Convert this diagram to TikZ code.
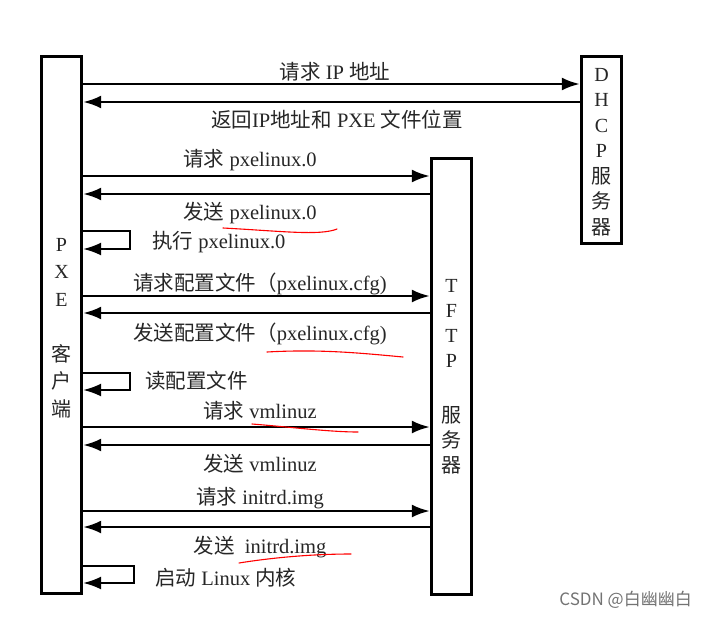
\documentclass[tikz,border=0pt]{standalone}
\usepackage{fontspec}
\setmainfont{Liberation Serif}
\newfontfamily\cjk{Noto Sans CJK SC}
\usetikzlibrary{arrows.meta}
\newcommand\zh[1]{{\cjk #1}}
\begin{document}
\begin{tikzpicture}[x=1pt,y=-1pt,
  box/.style={draw, line width=3.4pt, minimum width=40pt, inner sep=0pt},
  msg/.style={line width=2.5pt, -{Latex[length=18pt,width=13pt]}},
  loopa/.style={line width=2pt, -{Latex[length=18pt,width=13pt]}},
  lbl/.style={font=\fontsize{20.5}{24}\selectfont, text=black!85, inner sep=0pt},
  vlbl/.style={align=center, inner sep=0pt, text=black!85},
  redmark/.style={draw=red, line width=1.1pt, line cap=round}
]
\useasboundingbox[fill=white] (0,0) rectangle (706,618);

% boxes
\node[box, minimum height=537pt] (pxe) at (61.5,325) {};
\node[box, minimum height=187pt] (dhcp) at (601.5,150) {};
\node[box, minimum height=436pt] (tftp) at (451.5,376.5) {};

% vertical labels
\node[vlbl, font=\fontsize{20}{27.5}\selectfont] (pxet) at (61.5,328)
  {P\\X\\E\\[27.5pt]\zh{客}\\\zh{户}\\\zh{端}};
\node[vlbl, font=\fontsize{20}{25.5}\selectfont] (dhcpt) at (601.5,152)
  {D\\H\\C\\P\\\zh{服}\\\zh{务}\\\zh{器}};
\node[vlbl, font=\fontsize{20}{25}\selectfont] (tftpt) at (451.5,377)
  {T\\F\\T\\P\\[30pt]\zh{服}\\\zh{务}\\\zh{器}};

% messages
\draw[msg] (pxe.east |- 0,84) -- (dhcp.west |- 0,84);
\draw[msg] (dhcp.west |- 0,102) -- (pxe.east |- 0,102);
\draw[msg] (pxe.east |- 0,176) -- (tftp.west |- 0,176);
\draw[msg] (tftp.west |- 0,194) -- (pxe.east |- 0,194);
\draw[loopa] (pxe.east |- 0,231) -- (130,231) -- (130,249) -- (pxe.east |- 0,249);
\draw[msg] (pxe.east |- 0,296) -- (tftp.west |- 0,296);
\draw[msg] (tftp.west |- 0,313) -- (pxe.east |- 0,313);
\draw[loopa] (pxe.east |- 0,373) -- (130,373) -- (130,390) -- (pxe.east |- 0,390);
\draw[msg] (pxe.east |- 0,427) -- (tftp.west |- 0,427);
\draw[msg] (tftp.west |- 0,445) -- (pxe.east |- 0,445);
\draw[msg] (pxe.east |- 0,511) -- (tftp.west |- 0,511);
\draw[msg] (tftp.west |- 0,527) -- (pxe.east |- 0,527);
\draw[loopa] (pxe.east |- 0,566) -- (134,566) -- (134,583) -- (pxe.east |- 0,583);

% labels
\node[lbl] (m1) at (335,72) {\zh{请求} IP \zh{地址}};
\node[lbl] (m2) at (337,120) {\zh{返回}IP\zh{地址和} PXE \zh{文件位置}};
\node[lbl] (m3) at (250,160) {\zh{请求} pxelinux.0};
\node[lbl] (m4) at (250,213) {\zh{发送} pxelinux.0};
\node[lbl, anchor=west] (m5) at (152,242) {\zh{执行} pxelinux.0};
\node[lbl] (m6) at (260,284) {\zh{请求配置文件（}pxelinux.cfg)};
\node[lbl] (m7) at (260,334) {\zh{发送配置文件（}pxelinux.cfg)};
\node[lbl, anchor=west] (m8) at (145,381) {\zh{读配置文件}};
\node[lbl] (m9) at (260,411) {\zh{请求} vmlinuz};
\node[lbl] (m10) at (260,464) {\zh{发送} vmlinuz};
\node[lbl] (m11) at (260,498) {\zh{请求} initrd.img};
\node[lbl] (m12) at (260,547) {\zh{发送}\ \ initrd.img};
\node[lbl, anchor=west] (m13) at (155,578) {\zh{启动} Linux \zh{内核}};

% red hand marks
\draw[redmark] (223,228) .. controls (280,231) and (320,236) .. (337,229);
\draw[redmark] (267,352) .. controls (320,349) and (360,353) .. (403,357);
\draw[redmark] (252,424) .. controls (290,427) and (330,432) .. (358,432);
\draw[redmark] (239,563) .. controls (270,558) and (310,554) .. (351,554);

% watermark
\node[font=\cjk\fontsize{17}{20}\selectfont, text=black!55, anchor=east, inner sep=0pt] (wm) at (692,600) {CSDN @白幽幽白};
\end{tikzpicture}
\end{document}
